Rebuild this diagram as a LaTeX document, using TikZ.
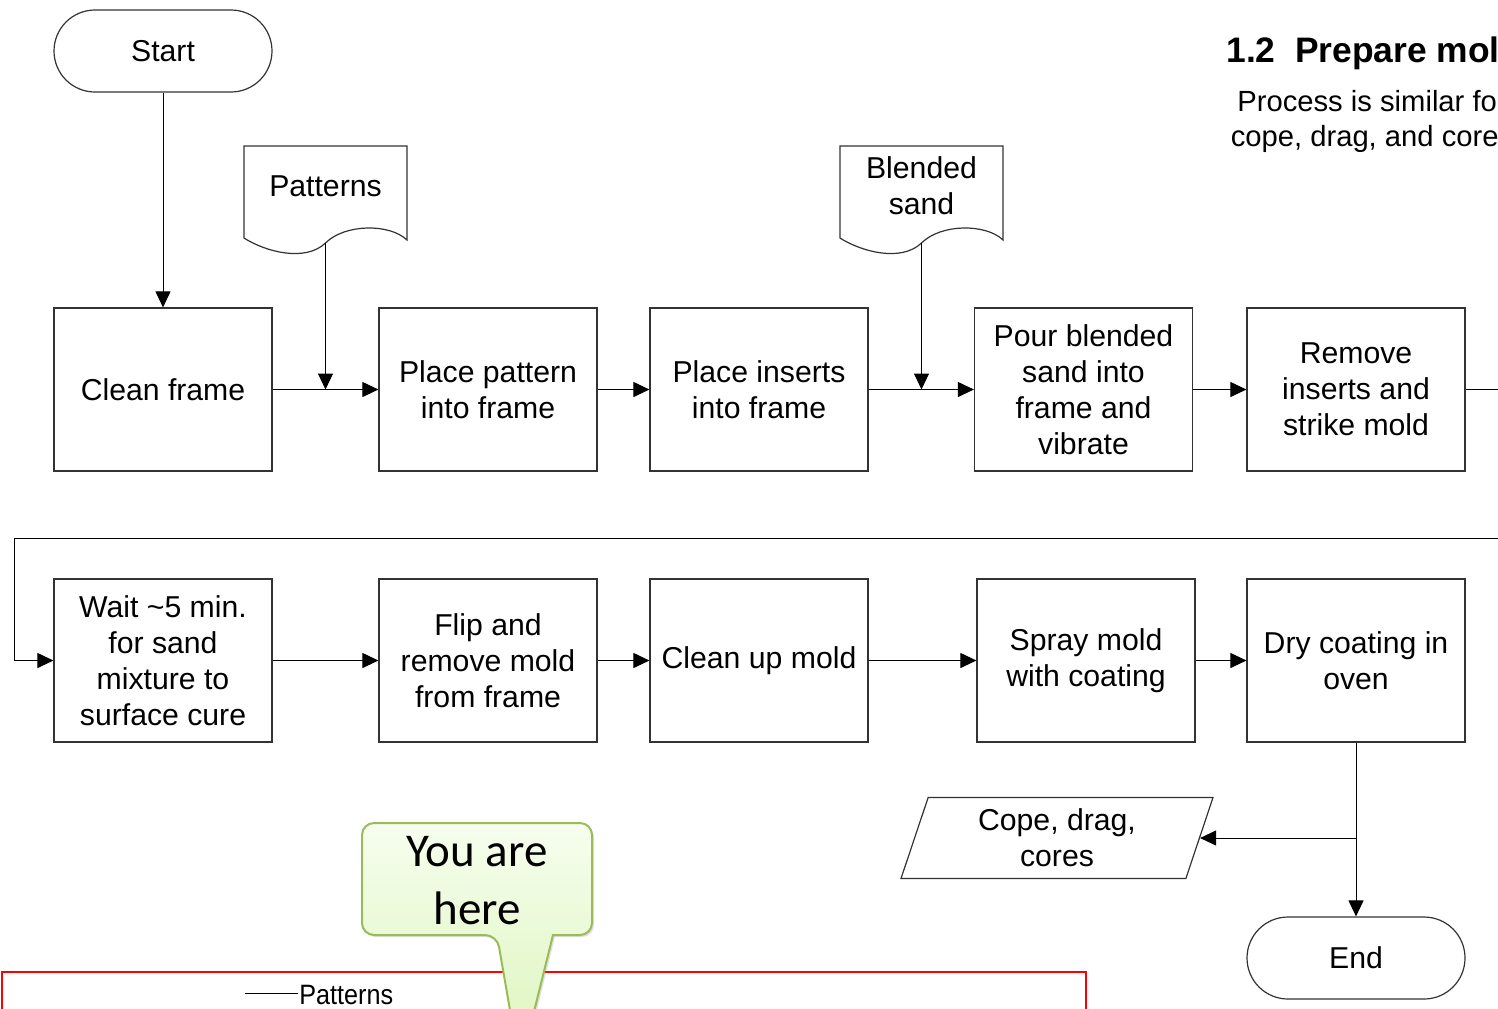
\documentclass[tikz,border=0pt]{standalone}
\usepackage{fontspec}
\setmainfont{Liberation Sans}
\newfontfamily\calloutfont{Carlito}
\usetikzlibrary{arrows.meta,shapes.geometric,shadows}
\definecolor{calloutline}{HTML}{9BBB59}
\definecolor{callouttop}{HTML}{F6FEEE}
\definecolor{calloutbot}{HTML}{DCF4BA}

% wavy document outline round a named node
\newcommand{\docoutline}[1]{%
  \draw[line width=0.6pt,draw=black!80]
    ([shift={(-81.5,52)}]#1.center) -- ([shift={(-81.5,-40)}]#1.center)
    -- ([shift={(81.5,-40)}]#1.center) -- ([shift={(81.5,54)}]#1.center)
    .. controls ([shift={(64.5,37.5)}]#1.center) and ([shift={(19.5,37.5)}]#1.center) .. ([shift={(0,57)}]#1.center)
    .. controls ([shift={(-20.5,76.5)}]#1.center) and ([shift={(-60.5,65.5)}]#1.center) .. ([shift={(-81.5,52)}]#1.center)
    -- cycle;}

\begin{document}
\begin{tikzpicture}[
  x=0.5pt, y=-0.5pt,
  font=\fontsize{15.1}{18}\selectfont,
  pnode/.style={draw=black!80,line width=0.6pt,rectangle,minimum width=109pt,minimum height=81.5pt,align=center,inner sep=2pt},
  tnode/.style={draw=black!80,line width=0.6pt,rectangle,rounded corners=20.5pt,minimum width=109pt,minimum height=41pt},
  dnode/.style={rectangle,minimum width=81.5pt,minimum height=40pt,align=center,inner sep=0pt},
  onode/.style={draw=black!80,line width=0.6pt,trapezium,trapezium left angle=65,trapezium right angle=115,trapezium stretches body,minimum width=156pt,minimum height=40.5pt,align=center,inner sep=0pt},
  flow/.style={-{Triangle[length=8pt,width=7.5pt]},line width=0.5pt},
  line/.style={line width=0.5pt}
]
  \useasboundingbox (0,0) rectangle (1498,1008);
  \clip (0,0) rectangle (1498,1008);

  % heading
  \node[font=\bfseries\fontsize{17.7}{20}\selectfont,anchor=base west,inner sep=0pt] (title) at (1226,62) {1.2\hspace{0.55em}Prepare molds};
  \node[font=\fontsize{14.6}{17.5}\selectfont,align=center,anchor=north,inner sep=0pt] (desc) at (1372,90) {Process is similar for\\cope, drag, and cores};

  % terminators
  \node[tnode] (start) at (163,51) {Start};
  \node[tnode] (finish) at (1356,958) {End};

  % inputs
  \node[dnode] (pat) at (325.5,186) {Patterns};
  \docoutline{pat}
  \node[dnode] (sand) at (921.5,186) {Blended\\sand};
  \docoutline{sand}

  % first row
  \node[pnode] (clean) at (163,389.5) {Clean frame};
  \node[pnode] (placepat) at (488,389.5) {Place pattern\\into frame};
  \node[pnode] (placeins) at (759,389.5) {Place inserts\\into frame};
  \node[pnode] (pour) at (1083.5,389.5) {Pour blended\\sand into\\frame and\\vibrate};
  \node[pnode] (remove) at (1356,389.5) {Remove\\inserts and\\strike mold};

  % second row
  \node[pnode] (wait) at (163,660.5) {Wait \textasciitilde5 min.\\for sand\\mixture to\\surface cure};
  \node[pnode] (flip) at (488,660.5) {Flip and\\remove mold\\from frame};
  \node[pnode] (cleanup) at (759,660.5) {Clean up mold};
  \node[pnode] (spray) at (1086,660.5) {Spray mold\\with coating};
  \node[pnode] (dry) at (1356,660.5) {Dry coating in\\oven};

  % output
  \node[onode] (cope) at (1057,838) {Cope, drag,\\cores};

  % edges
  \coordinate (patb) at ([shift={(0,57)}]pat.center);
  \coordinate (sandb) at ([shift={(0,57)}]sand.center);
  \coordinate (turn) at (1540,389.5);
  \coordinate (back) at (14,538);
  \draw[flow] (start) -- (clean);
  \draw[flow] (clean) -- (placepat);
  \draw[flow] (patb) -- (patb |- clean.east);
  \draw[flow] (placepat) -- (placeins);
  \draw[flow] (placeins) -- (pour);
  \draw[flow] (sandb) -- (sandb |- pour.west);
  \draw[flow] (pour) -- (remove);
  \draw[flow] (remove.east) -- (turn) |- (back) |- (wait.west);
  \draw[flow] (wait) -- (flip);
  \draw[flow] (flip) -- (cleanup);
  \draw[flow] (cleanup) -- (spray);
  \draw[flow] (spray) -- (dry);
  \draw[flow] (dry) -- (finish);
  \coordinate (split) at (dry.south |- cope.east);
  \draw[flow] (split) -- (cope.east);

  % thumbnail frame
  \node[draw=red,line width=1pt,anchor=north west,minimum width=542pt,minimum height=100pt,inner sep=0pt] (mini) at (1,971) {};
  \node[anchor=west,inner sep=0.5pt,font=\fontsize{14}{16}\selectfont] (minipat) at (298,995) {\scalebox{0.9}[1]{Patterns}};
  \coordinate (minitick) at (245,993);
  \draw[line] (minitick) -- (minitick -| minipat.west);

  % callout
  \draw[draw=calloutline,line width=1pt,top color=callouttop,bottom color=calloutbot,
        drop shadow={opacity=0.25,shadow xshift=1pt,shadow yshift=-1pt}]
    (497,935) -- (520,1068) -- (553,935) [rounded corners=6pt] -- (592,935) -- (592,823) -- (362,823) -- (362,935) -- cycle;
  \node[font=\calloutfont\fontsize{23.5}{29}\selectfont,align=center] (here) at (477,881) {You are\\here};
\end{tikzpicture}
\end{document}
